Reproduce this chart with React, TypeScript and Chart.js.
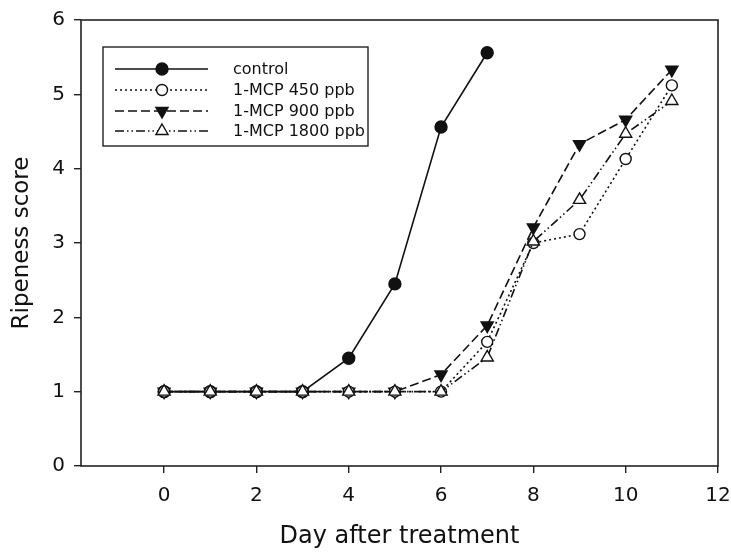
import React, { useEffect, useRef } from "react";
import { Chart, registerables } from "chart.js";

Chart.register(...registerables);

const controlDays = [0, 1, 2, 3, 4, 5, 6, 7];
const controlScores = [1, 1, 1, 1, 1.45, 2.45, 4.56, 5.56];
const mcpDays = [0, 1, 2, 3, 4, 5, 6, 7, 8, 9, 10, 11];
const mcp450Scores = [1, 1, 1, 1, 1, 1, 1, 1.67, 3.0, 3.12, 4.13, 5.12];
const mcp900Scores = [1, 1, 1, 1, 1, 1, 1.23, 1.89, 3.21, 4.33, 4.66, 5.33];
const mcp1800Scores = [1, 1, 1, 1, 1, 1, 1, 1.46, 3.02, 3.58, 4.47, 4.91];
const seriesLabels = ["control", "1-MCP 450 ppb", "1-MCP 900 ppb", "1-MCP 1800 ppb"];
const xTickValues = [0, 2, 4, 6, 8, 10, 12];
const yTickValues = [0, 1, 2, 3, 4, 5, 6];
const xTitle = "Day after treatment";
const yTitle = "Ripeness score";

const FONT = "'DejaVu Sans', 'Liberation Sans', Arial, sans-serif";
const INK = "#111";

function toPoints(xs: number[], ys: number[]) {
  return xs.map((x, i) => ({ x, y: ys[i] }));
}

function drawMarker(
  ctx: CanvasRenderingContext2D,
  style: string,
  x: number,
  y: number,
  r: number,
  rotationDeg: number,
  fill: string,
  stroke: string,
  lw: number
) {
  ctx.save();
  ctx.beginPath();
  if (style === "circle") {
    ctx.arc(x, y, r, 0, Math.PI * 2);
  } else {
    let rad = (rotationDeg * Math.PI) / 180;
    ctx.moveTo(x + Math.sin(rad) * r, y - Math.cos(rad) * r);
    rad += (2 * Math.PI) / 3;
    ctx.lineTo(x + Math.sin(rad) * r, y - Math.cos(rad) * r);
    rad += (2 * Math.PI) / 3;
    ctx.lineTo(x + Math.sin(rad) * r, y - Math.cos(rad) * r);
    ctx.closePath();
  }
  ctx.fillStyle = fill;
  ctx.fill();
  ctx.lineWidth = lw;
  ctx.strokeStyle = stroke;
  ctx.setLineDash([]);
  ctx.stroke();
  ctx.restore();
}

const framePlugin = {
  id: "frameAndLegend",
  afterDraw(chart: any) {
    const { ctx, chartArea } = chart;
    ctx.save();
    ctx.strokeStyle = "#222";
    ctx.lineWidth = 1.6;
    ctx.strokeRect(chartArea.left, chartArea.top, chartArea.right - chartArea.left, chartArea.bottom - chartArea.top);

    // legend
    const boxL = 103, boxT = 47, boxR = 368, boxB = 146;
    ctx.fillStyle = "#fff";
    ctx.fillRect(boxL, boxT, boxR - boxL, boxB - boxT);
    ctx.strokeStyle = "#222";
    ctx.lineWidth = 1.4;
    ctx.strokeRect(boxL, boxT, boxR - boxL, boxB - boxT);
    const rowY = [69, 90, 111, 131];
    const lineL = 115, lineR = 208, markX = 162, textX = 233;
    chart.data.datasets.forEach((ds: any, i: number) => {
      const y = rowY[i];
      ctx.save();
      ctx.strokeStyle = ds.borderColor;
      ctx.lineWidth = ds.borderWidth;
      ctx.setLineDash(ds.borderDash || []);
      ctx.beginPath();
      ctx.moveTo(lineL, y);
      ctx.lineTo(lineR, y);
      ctx.stroke();
      ctx.restore();
      drawMarker(
        ctx,
        ds.pointStyle,
        markX,
        y,
        ds.pointRadius,
        ds.pointRotation || 0,
        ds.pointBackgroundColor,
        ds.pointBorderColor,
        ds.pointBorderWidth
      );
      ctx.fillStyle = INK;
      ctx.font = `16px ${FONT}`;
      ctx.textAlign = "left";
      ctx.textBaseline = "middle";
      ctx.fillText(ds.label, textX, y + 1);
    });
    ctx.restore();
  },
};

export default function App() {
  const canvasRef = useRef<HTMLCanvasElement | null>(null);

  useEffect(() => {
    document.body.style.margin = "0";
    const canvas = canvasRef.current;
    if (!canvas) return;
    const common = { borderColor: INK, pointBorderColor: INK, borderWidth: 1.6, pointBorderWidth: 1.4, tension: 0 };
    const chart = new Chart(canvas, {
      type: "line",
      data: {
        datasets: [
          {
            ...common,
            label: seriesLabels[0],
            data: toPoints(controlDays, controlScores),
            pointStyle: "circle",
            pointRadius: 6,
            pointBackgroundColor: INK,
            order: 3,
          },
          {
            ...common,
            label: seriesLabels[1],
            data: toPoints(mcpDays, mcp450Scores),
            borderDash: [2, 3],
            pointStyle: "circle",
            pointRadius: 5.5,
            pointBackgroundColor: "#fff",
            order: 1,
          },
          {
            ...common,
            label: seriesLabels[2],
            data: toPoints(mcpDays, mcp900Scores),
            borderDash: [9, 4],
            pointStyle: "triangle",
            pointRotation: 180,
            pointRadius: 7,
            pointBackgroundColor: INK,
            order: 2,
          },
          {
            ...common,
            label: seriesLabels[3],
            data: toPoints(mcpDays, mcp1800Scores),
            borderDash: [9, 3, 1.5, 3, 1.5, 3],
            pointStyle: "triangle",
            pointRadius: 7,
            pointBackgroundColor: "#fff",
            order: 0,
          },
        ] as any,
      },
      options: {
        animation: false,
        responsive: false,
        events: [],
        layout: { padding: { top: 20, right: 13, left: 0, bottom: 0 } },
        plugins: { legend: { display: false }, tooltip: { enabled: false } },
        scales: {
          x: {
            type: "linear",
            min: -1.8,
            max: 12,
            afterBuildTicks: (axis: any) => {
              axis.ticks = xTickValues.map((v) => ({ value: v }));
            },
            afterFit: (axis: any) => {
              axis.height = 88;
              axis.paddingLeft = 0;
              axis.paddingRight = 0;
            },
            border: { display: false },
            grid: { drawOnChartArea: false, drawTicks: true, tickLength: 7, color: "#222", lineWidth: 1.4 },
            ticks: { color: INK, font: { family: FONT, size: 20 }, padding: 11, maxRotation: 0, autoSkip: false },
            title: {
              display: true,
              text: xTitle,
              color: INK,
              font: { family: FONT, size: 24 },
              padding: { top: 0, bottom: 3 },
            },
          },
          y: {
            type: "linear",
            min: 0,
            max: 6,
            afterBuildTicks: (axis: any) => {
              axis.ticks = yTickValues.map((v) => ({ value: v }));
            },
            afterFit: (axis: any) => {
              axis.width = 81;
              axis.paddingTop = 0;
              axis.paddingBottom = 0;
            },
            border: { display: false },
            grid: { drawOnChartArea: false, drawTicks: true, tickLength: 7, color: "#222", lineWidth: 1.4 },
            ticks: { color: INK, font: { family: FONT, size: 20 }, padding: 9 },
            title: {
              display: true,
              text: yTitle,
              color: INK,
              font: { family: FONT, size: 23 },
              padding: { top: 8, bottom: 0 },
            },
          },
        },
      } as any,
      plugins: [framePlugin],
    });
    return () => chart.destroy();
  }, []);

  return (
    <div style={{ width: 731, height: 554 }}>
      <canvas ref={canvasRef} width={731} height={554} style={{ display: "block" }} />
    </div>
  );
}
